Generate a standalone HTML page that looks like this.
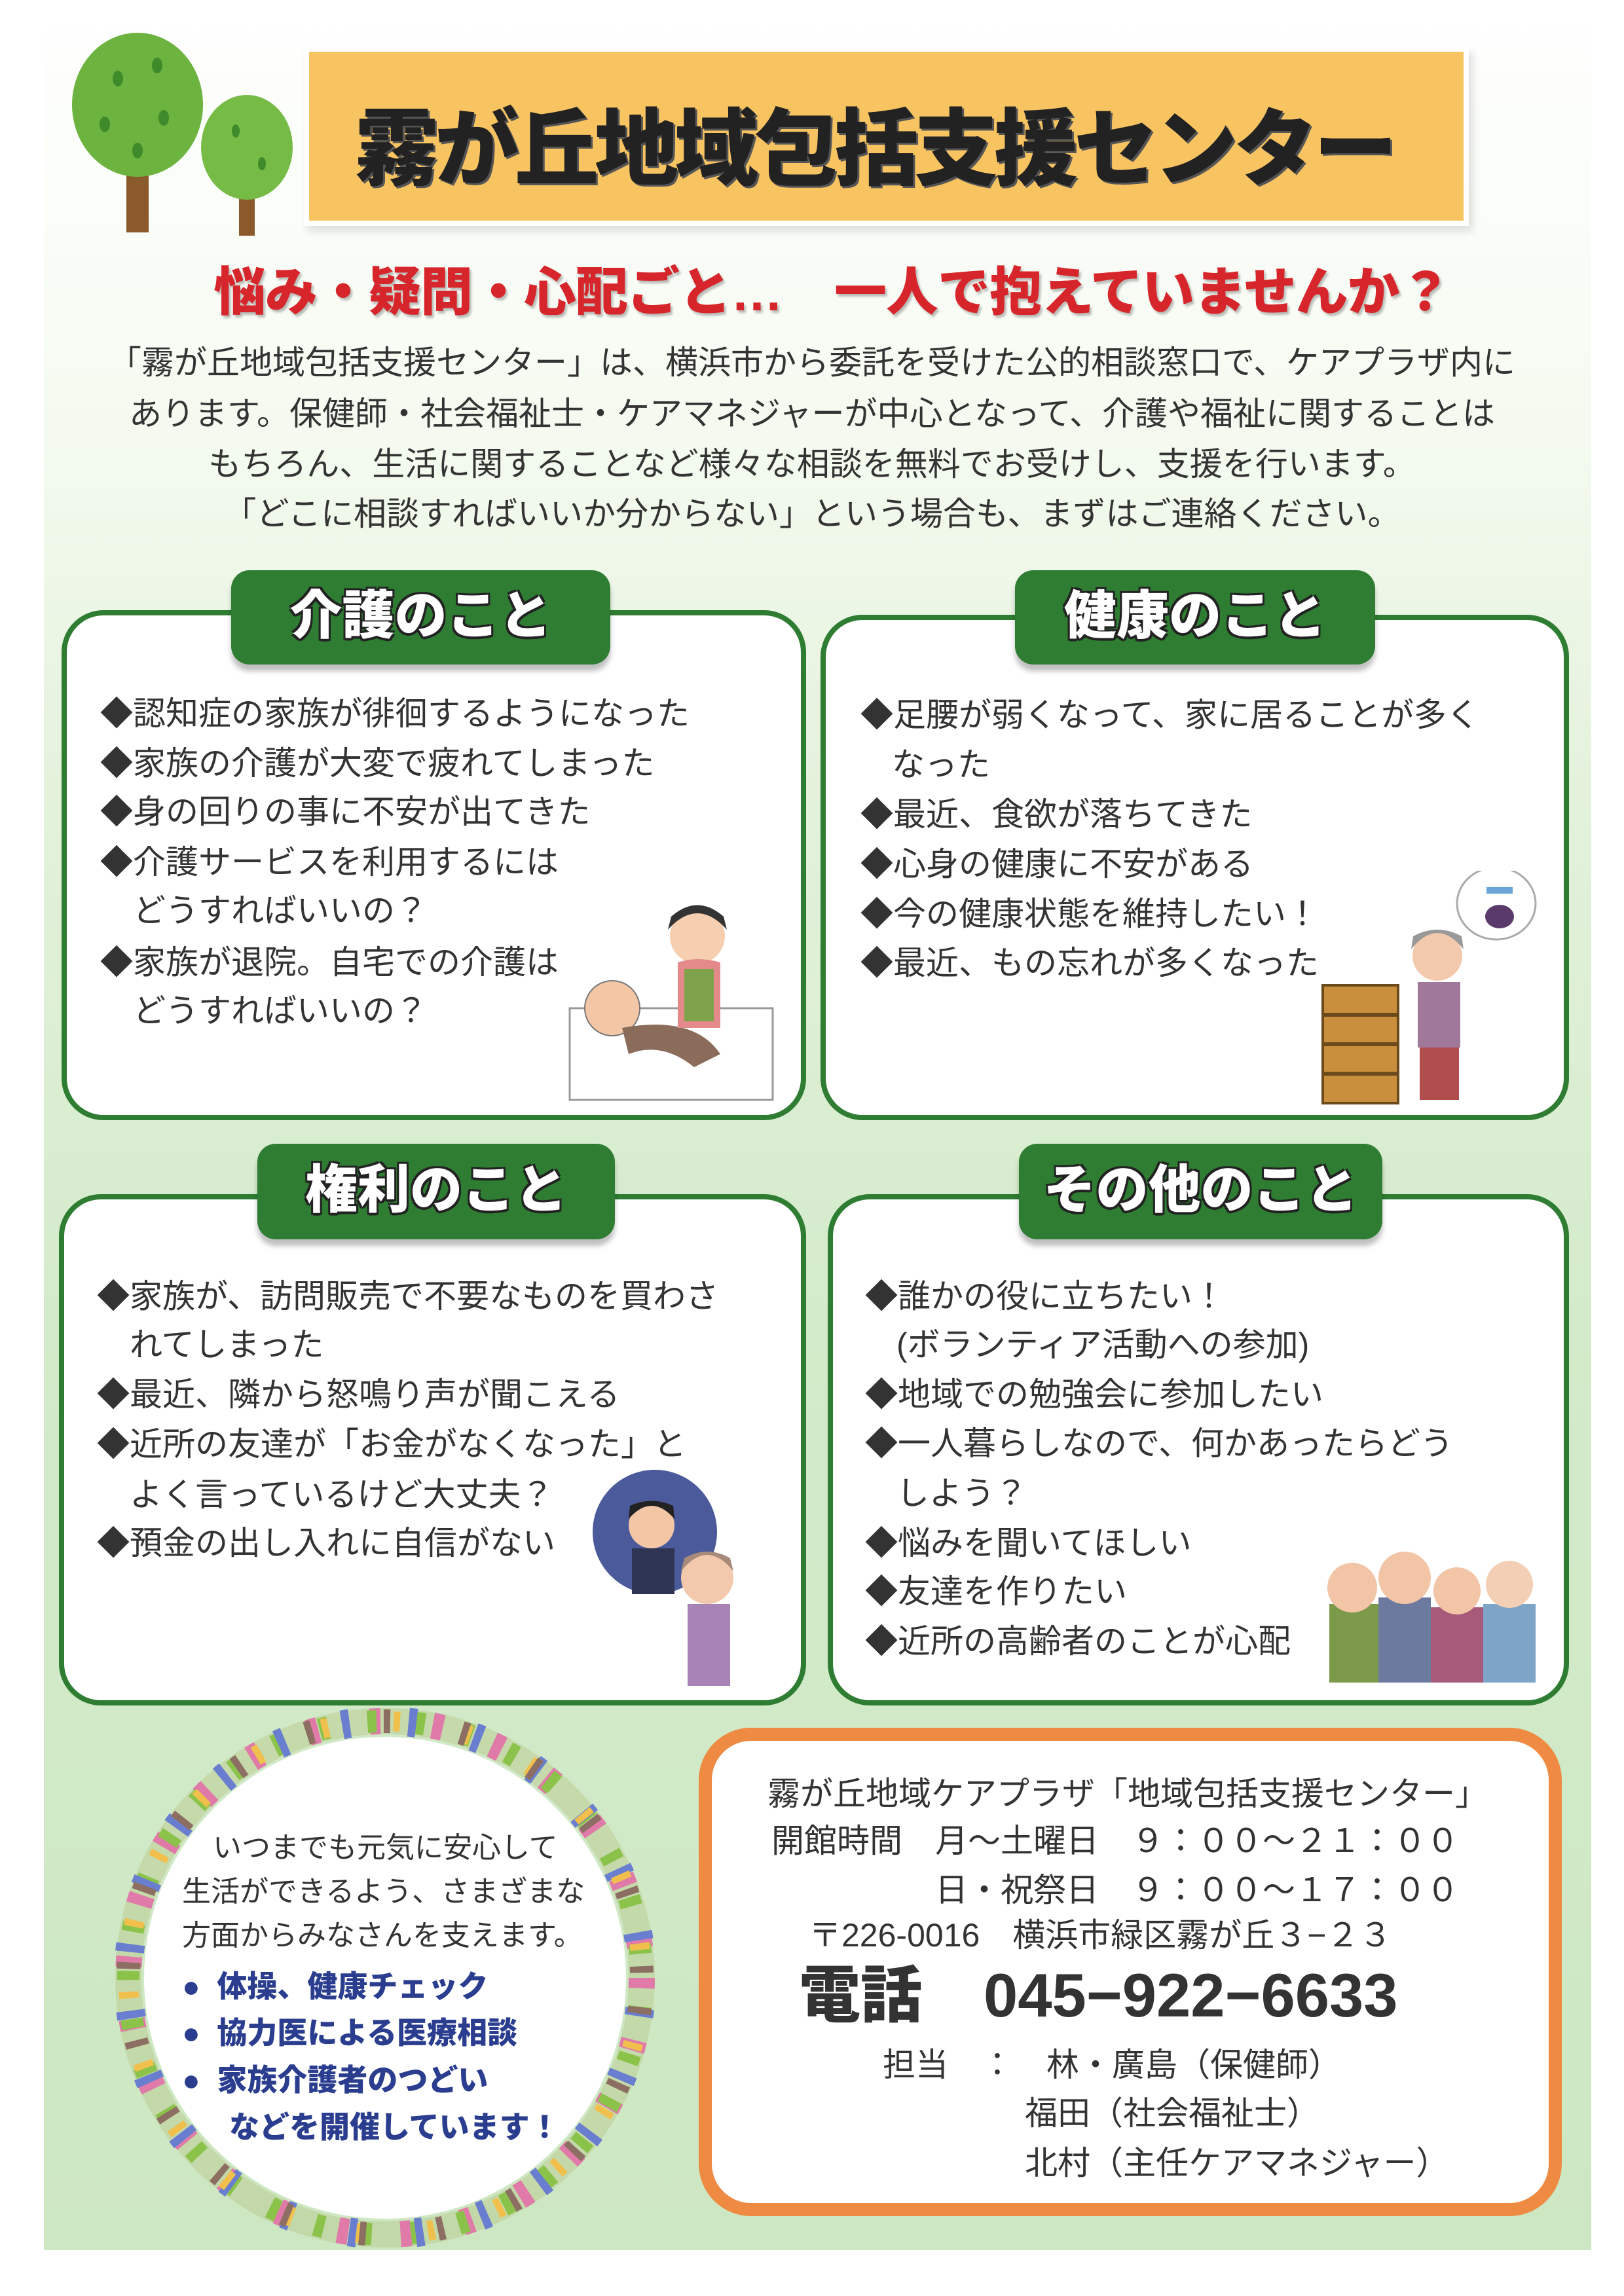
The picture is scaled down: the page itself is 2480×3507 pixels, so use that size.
<!DOCTYPE html>
<html><head><meta charset="utf-8">
<style>
*{margin:0;padding:0;box-sizing:border-box}
body{width:2480px;height:3507px;position:relative;background:#fff;font-family:"Liberation Sans","Noto Sans CJK JP",sans-serif;color:#333;overflow:hidden}
.bg{position:absolute;left:67px;top:0;width:2363px;height:3437px;background:linear-gradient(#ffffff 0px,#f6fbf2 600px,#e4f2dc 1200px,#d4ebcb 2000px,#cde7c2 3437px)}
.abs{position:absolute;white-space:nowrap}
.title{left:472px;top:79px;width:1763px;height:258px;background:#f8c462;box-shadow:0 0 0 8px #fff,6px 8px 12px 8px rgba(0,0,0,.12)}
.title span{position:absolute;left:70px;top:45px;font-size:128px;font-weight:900;color:#222;letter-spacing:-6px;text-shadow:3px 3px 0 #555}
.sub{left:326px;top:382px;font-size:80px;font-weight:900;color:#d7262b;letter-spacing:-1px;text-shadow:3px 4px 3px rgba(0,0,0,.25)}
.para{left:0;width:2480px;text-align:center;font-size:50px;color:#333}
.box{position:absolute;background:#fff;border:8px solid #2e7d32;border-radius:64px}
.tab{position:absolute;background:#2e7d32;border-radius:28px;box-shadow:0 10px 8px rgba(0,0,0,.25);color:#fff;font-weight:900;font-size:80px;text-align:center;text-shadow:-3px -3px 0 #222,3px -3px 0 #222,-3px 3px 0 #222,3px 3px 0 #222,0 4px 0 #222}
.it{position:absolute;font-size:50px;color:#333;white-space:nowrap}
.circ{font-size:44px;color:#333}
.blue{font-size:46px;font-weight:900;color:#2a3d8f}
.ob{position:absolute;left:1067px;top:2639px;width:1318px;height:746px;border:20px solid #ee8a42;border-radius:80px;background:#fff}
.ot{font-size:50px;color:#333}
</style></head><body>
<div class="bg"></div>

<svg class="abs" style="left:100px;top:40px" width="370" height="330">
<rect x="93" y="170" width="34" height="145" fill="#8a5a2b"/>
<ellipse cx="110" cy="120" rx="100" ry="110" fill="#6db33f"/>
<rect x="265" y="210" width="24" height="110" fill="#8a5a2b"/>
<ellipse cx="277" cy="185" rx="70" ry="80" fill="#76bb45"/>
<g fill="#3f8a2a"><ellipse cx="80" cy="80" rx="8" ry="12"/><ellipse cx="140" cy="60" rx="8" ry="12"/><ellipse cx="60" cy="150" rx="8" ry="12"/><ellipse cx="150" cy="140" rx="8" ry="12"/><ellipse cx="110" cy="190" rx="8" ry="12"/><ellipse cx="260" cy="160" rx="6" ry="10"/><ellipse cx="300" cy="210" rx="6" ry="10"/></g>
</svg>

<div class="abs title"><span>霧が丘地域包括支援センター</span></div>
<div class="abs sub">悩み・疑問・心配ごと…　一人で抱えていませんか？</div>

<div class="abs para" style="top:514px">「霧が丘地域包括支援センター」は、横浜市から委託を受けた公的相談窓口で、ケアプラザ内に</div>
<div class="abs para" style="top:592px">あります。保健師・社会福祉士・ケアマネジャーが中心となって、介護や福祉に関することは</div>
<div class="abs para" style="top:669px">もちろん、生活に関することなど様々な相談を無料でお受けし、支援を行います。</div>
<div class="abs para" style="top:745px">「どこに相談すればいいか分からない」という場合も、まずはご連絡ください。</div>

<div class="box" style="left:94px;top:932px;width:1137px;height:779px"></div>
<div class="tab" style="left:353px;top:871px;width:579px;height:144px;line-height:140px">介護のこと</div>
<div class="box" style="left:1253px;top:939px;width:1143px;height:772px"></div>
<div class="tab" style="left:1550px;top:871px;width:550px;height:144px;line-height:140px">健康のこと</div>
<div class="box" style="left:90px;top:1824px;width:1141px;height:781px"></div>
<div class="tab" style="left:393px;top:1747px;width:546px;height:146px;line-height:142px">権利のこと</div>
<div class="box" style="left:1264px;top:1824px;width:1132px;height:781px"></div>
<div class="tab" style="left:1556px;top:1747px;width:555px;height:146px;line-height:142px">その他のこと</div>

<div class="it" style="left:153px;top:1050px">◆認知症の家族が徘徊するようになった</div>
<div class="it" style="left:153px;top:1126px">◆家族の介護が大変で疲れてしまった</div>
<div class="it" style="left:153px;top:1200px">◆身の回りの事に不安が出てきた</div>
<div class="it" style="left:153px;top:1277px">◆介護サービスを利用するには</div>
<div class="it" style="left:203px;top:1351px">どうすればいいの？</div>
<div class="it" style="left:153px;top:1430px">◆家族が退院。自宅での介護は</div>
<div class="it" style="left:203px;top:1504px">どうすればいいの？</div>
<svg class="abs" style="left:860px;top:1370px" width="340" height="320">
<rect x="10" y="170" width="310" height="140" fill="#fff" stroke="#999" stroke-width="3"/>
<circle cx="75" cy="170" r="42" fill="#f3c6a5" stroke="#777" stroke-width="2"/>
<path d="M90 200 Q200 180 240 240 L200 260 Q150 220 100 240Z" fill="#8b6b5a"/>
<circle cx="205" cy="60" r="42" fill="#f5cfb0"/><path d="M160 50 Q205 0 250 50 L245 30 Q205 -5 165 30Z" fill="#333"/>
<path d="M175 100 Q205 90 240 100 L240 200 L175 200Z" fill="#e48a8a"/><rect x="185" y="110" width="45" height="80" fill="#7fa34a"/>
</svg>

<div class="it" style="left:1314px;top:1052px">◆足腰が弱くなって、家に居ることが多く</div>
<div class="it" style="left:1362px;top:1128px">なった</div>
<div class="it" style="left:1314px;top:1204px">◆最近、食欲が落ちてきた</div>
<div class="it" style="left:1314px;top:1280px">◆心身の健康に不安がある</div>
<div class="it" style="left:1314px;top:1356px">◆今の健康状態を維持したい！</div>
<div class="it" style="left:1314px;top:1431px">◆最近、もの忘れが多くなった</div>
<svg class="abs" style="left:2000px;top:1330px" width="380" height="360">
<rect x="20" y="175" width="115" height="180" fill="#c98f3c" stroke="#6b4a1c" stroke-width="4"/>
<line x1="20" y1="220" x2="135" y2="220" stroke="#6b4a1c" stroke-width="6"/><line x1="20" y1="265" x2="135" y2="265" stroke="#6b4a1c" stroke-width="6"/><line x1="20" y1="310" x2="135" y2="310" stroke="#6b4a1c" stroke-width="6"/>
<circle cx="195" cy="130" r="38" fill="#f3c9ad"/><path d="M155 120 Q195 70 235 120 L232 100 Q195 80 158 100Z" fill="#999"/>
<rect x="165" y="170" width="65" height="100" fill="#a0799a"/><rect x="168" y="270" width="60" height="80" fill="#b04e4e"/>
<ellipse cx="285" cy="50" rx="60" ry="55" fill="#fff" stroke="#aaa" stroke-width="3"/>
<ellipse cx="290" cy="70" rx="22" ry="18" fill="#5a3a6a"/><rect x="270" y="25" width="40" height="10" fill="#6aa6d8"/>
</svg>

<div class="it" style="left:148px;top:1940px">◆家族が、訪問販売で不要なものを買わさ</div>
<div class="it" style="left:198px;top:2014px">れてしまった</div>
<div class="it" style="left:148px;top:2090px">◆最近、隣から怒鳴り声が聞こえる</div>
<div class="it" style="left:148px;top:2166px">◆近所の友達が「お金がなくなった」と</div>
<div class="it" style="left:198px;top:2243px">よく言っているけど大丈夫？</div>
<div class="it" style="left:148px;top:2317px">◆預金の出し入れに自信がない</div>
<svg class="abs" style="left:900px;top:2240px" width="280" height="340">
<circle cx="100" cy="100" r="95" fill="#4a5a9a"/>
<circle cx="95" cy="90" r="35" fill="#f3c6a5"/><path d="M60 80 Q95 40 130 80 L128 60 Q95 45 62 60Z" fill="#222"/>
<rect x="65" y="125" width="65" height="70" fill="#2e3552"/>
<circle cx="180" cy="170" r="40" fill="#f3c9ad"/><path d="M140 160 Q180 110 220 160 L215 140 Q180 120 145 140Z" fill="#a78a7a"/>
<rect x="150" y="210" width="65" height="125" fill="#a784b5"/>
</svg>

<div class="it" style="left:1321px;top:1940px">◆誰かの役に立ちたい！</div>
<div class="it" style="left:1369px;top:2014px">(ボランティア活動への参加)</div>
<div class="it" style="left:1321px;top:2090px">◆地域での勉強会に参加したい</div>
<div class="it" style="left:1321px;top:2165px">◆一人暮らしなので、何かあったらどう</div>
<div class="it" style="left:1369px;top:2241px">しよう？</div>
<div class="it" style="left:1321px;top:2317px">◆悩みを聞いてほしい</div>
<div class="it" style="left:1321px;top:2391px">◆友達を作りたい</div>
<div class="it" style="left:1321px;top:2467px">◆近所の高齢者のことが心配</div>
<svg class="abs" style="left:2010px;top:2360px" width="370" height="210">
<rect x="20" y="90" width="75" height="120" fill="#7c9a4a"/><circle cx="55" cy="65" r="38" fill="#f1c5a6"/>
<rect x="95" y="80" width="80" height="130" fill="#6d7aa0"/><circle cx="135" cy="50" r="40" fill="#f1c5a6"/>
<rect x="175" y="95" width="80" height="115" fill="#a85a7a"/><circle cx="215" cy="70" r="36" fill="#f1c5a6"/>
<rect x="255" y="90" width="80" height="120" fill="#7ea5c8"/><circle cx="295" cy="60" r="36" fill="#f3d0b5"/>
</svg>

<svg class="abs" style="left:160px;top:2600px" width="860" height="860">
<circle cx="428" cy="421" r="392" fill="none" stroke="#b9c98f" stroke-width="40" opacity=".5"/>
<circle cx="428" cy="421" r="392" fill="none" stroke="#e07aa8" stroke-width="40" stroke-dasharray="16 80"/>
<circle cx="428" cy="421" r="392" fill="none" stroke="#8bc34a" stroke-width="34" stroke-dasharray="14 60" stroke-dashoffset="30"/>
<circle cx="428" cy="421" r="392" fill="none" stroke="#6a7ed0" stroke-width="44" stroke-dasharray="12 90" stroke-dashoffset="55"/>
<circle cx="428" cy="421" r="392" fill="none" stroke="#f1c04c" stroke-width="30" stroke-dasharray="10 100" stroke-dashoffset="10"/>
<circle cx="428" cy="421" r="392" fill="none" stroke="#8d6e63" stroke-width="36" stroke-dasharray="10 110" stroke-dashoffset="75"/>
<circle cx="428" cy="421" r="368" fill="#fff"/>
</svg>
<div class="abs circ" style="left:325px;top:2786px">いつまでも元気に安心して</div>
<div class="abs circ" style="left:278px;top:2853px">生活ができるよう、さまざまな</div>
<div class="abs circ" style="left:278px;top:2920px">方面からみなさんを支えます。</div>
<div class="abs blue" style="left:278px;top:2998px">●&nbsp;&nbsp;体操、健康チェック</div>
<div class="abs blue" style="left:278px;top:3069px">●&nbsp;&nbsp;協力医による医療相談</div>
<div class="abs blue" style="left:278px;top:3141px">●&nbsp;&nbsp;家族介護者のつどい</div>
<div class="abs blue" style="left:350px;top:3213px">などを開催しています！</div>

<div class="ob"></div>
<div class="abs ot" style="left:1172px;top:2700px">霧が丘地域ケアプラザ「地域包括支援センター」</div>
<div class="abs ot" style="left:1178px;top:2772px">開館時間　月〜土曜日　９：００〜２１：００</div>
<div class="abs ot" style="left:1428px;top:2847px">日・祝祭日　９：００〜１７：００</div>
<div class="abs ot" style="left:1235px;top:2916px">〒226-0016　横浜市緑区霧が丘３−２３</div>
<div class="abs" style="left:1220px;top:2972px;font-size:94px;font-weight:900;color:#333;letter-spacing:0px">電話　045−922−6633</div>
<div class="abs ot" style="left:1348px;top:3114px">担当　：　林・廣島（保健師）</div>
<div class="abs ot" style="left:1565px;top:3188px">福田（社会福祉士）</div>
<div class="abs ot" style="left:1565px;top:3264px">北村（主任ケアマネジャー）</div>
</body></html>
